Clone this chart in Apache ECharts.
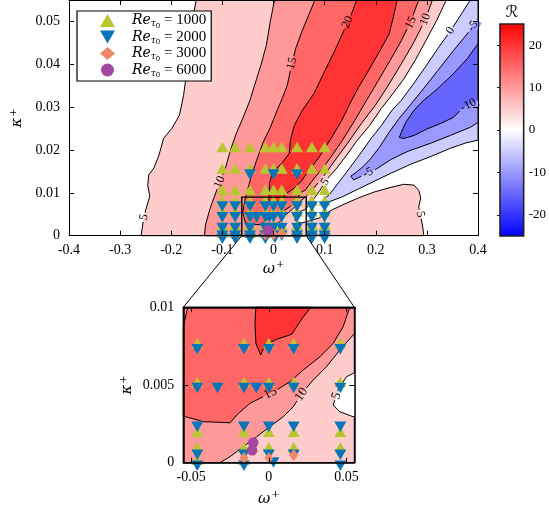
<!DOCTYPE html>
<html>
<head>
<meta charset="utf-8">
<title>Amplification map</title>
<script src="https://cdn.jsdelivr.net/npm/echarts@6.0.0/dist/echarts.min.js"></script>
<style>
html, body { margin: 0; padding: 0; background: #fff; }
#chart { width: 549px; height: 510px; }
</style>
</head>
<body>
<div id="chart"></div>
<script>
const SERIF = '"Liberation Serif", "DejaVu Serif", serif';
const MATH = '"DejaVu Serif", "Liberation Serif", serif';

// ---------- axes ----------
const omegaRangeMain = [-0.4, 0.4];
const kappaRangeMain = [0, 0.055];
const omegaRangeInset = [-0.055, 0.055];
const kappaRangeInset = [0, 0.01];
const omegaTicksMain = [-0.4, -0.3, -0.2, -0.1, 0, 0.1, 0.2, 0.3, 0.4];
const kappaTicksMain = [0, 0.01, 0.02, 0.03, 0.04, 0.05];
const omegaTicksInset = [-0.05, 0, 0.05];
const kappaTicksInset = [0, 0.005, 0.01];
const colorbarRange = [-25, 25];
const colorbarTicks = [-20, -10, 0, 10, 20];
const zoomBox = [-0.062, 0, 0.064, 0.009]; // [ω0, κ0, ω1, κ1]

// ---------- contour regions of R, vertices [ω+, κ+] ----------
// R >= 5
const regionGE5 = [
  [-0.151,0.055],[-0.159,0.0502],[-0.166,0.0432],[-0.172,0.0362],[-0.176,0.0327],[-0.184,0.0281],
  [-0.199,0.0250],[-0.215,0.0227],[-0.224,0.0188],[-0.234,0.0158],[-0.244,0.0142],[-0.246,0.0118],
  [-0.242,0.0092],[-0.250,0.0060],[-0.255,0.0032],[-0.259,0],
  [0.294,0],[0.292,0.0020],[0.288,0.0044],[0.284,0.0067],[0.288,0.0088],[0.284,0.0106],[0.275,0.0118],
  [0.255,0.0120],[0.230,0.0113],[0.197,0.0102],[0.166,0.0088],[0.139,0.0074],[0.114,0.0060],[0.089,0.0041],
  [0.062,0.0032],[0.0543,0.00296],[0.0457,0.00328],[0.0414,0.00371],[0.0446,0.00468],[0.0500,0.00553],
  [0.0543,0.00575],[0.062,0.0061],[0.075,0.0080],[0.091,0.0106],[0.106,0.0134],[0.124,0.0158],
  [0.143,0.0188],[0.164,0.0223],[0.188,0.0257],[0.211,0.0297],[0.234,0.0332],[0.255,0.0366],
  [0.277,0.0409],[0.298,0.0455],[0.319,0.0502],[0.338,0.055]
];
// R >= 10
const regionGE10 = [
  [0.002,0.055],[-0.006,0.0502],[-0.014,0.0444],[-0.025,0.0397],[-0.037,0.0351],[-0.046,0.0316],
  [-0.060,0.0274],[-0.072,0.0241],[-0.083,0.0204],[-0.093,0.0162],[-0.108,0.0116],[-0.124,0.0064],
  [-0.133,0.0025],[-0.135,0],
  [-0.0314,0],[-0.0249,0.00039],[-0.0164,0.00103],[-0.0078,0.00167],[0.0007,0.00232],[0.0093,0.00296],
  [0.0157,0.0036],[0.0221,0.00457],[0.0286,0.00532],[0.0371,0.00618],[0.0457,0.00725],[0.0543,0.00822],
  [0.064,0.0092],[0.075,0.0106],[0.095,0.0134],[0.118,0.0172],[0.145,0.0216],[0.172,0.0262],
  [0.199,0.0304],[0.222,0.0346],[0.248,0.0397],[0.273,0.0448],[0.296,0.0502],[0.311,0.055]
];
// R >= 15
const regionGE15 = [
  [0.081,0.055],[0.070,0.0518],[0.056,0.0478],[0.044,0.0439],[0.035,0.0397],[0.027,0.0351],
  [0.017,0.0320],[0.008,0.0295],[-0.006,0.0253],[-0.021,0.0216],[-0.033,0.0176],[-0.043,0.0141],
  [-0.050,0.0110],[-0.056,0.0083],[-0.060,0.0055],
  [-0.0549,0.0030],[-0.0421,0.00264],[-0.0249,0.00257],[-0.0196,0.00317],[-0.0121,0.00382],
  [-0.0035,0.00425],[0.0050,0.00468],[0.0136,0.00521],[0.0221,0.00596],[0.0329,0.00682],
  [0.0414,0.00768],[0.0478,0.00875],[0.0521,0.0100],
  [0.062,0.0106],[0.075,0.0127],[0.093,0.0153],[0.112,0.0183],[0.135,0.0223],[0.159,0.0269],
  [0.182,0.0316],[0.205,0.0362],[0.228,0.0409],[0.250,0.0455],[0.269,0.0502],[0.284,0.055]
];
// R >= 20
const regionGE20 = [
  [0.1625,0.055],[0.1528,0.0518],[0.1373,0.0478],[0.1199,0.0432],[0.1006,0.0385],[0.0793,0.0332],
  [0.0561,0.0292],[0.0406,0.0257],[0.0329,0.0222],[0.0309,0.0192],[0.0174,0.0171],[-0.0019,0.0148],
  [-0.0077,0.0123],
  [-0.0083,0.0100],[-0.0089,0.00897],[-0.0083,0.00768],[-0.0052,0.00693],[-0.0025,0.00757],
  [0.0050,0.00794],[0.0147,0.00826],[0.0211,0.00923],[0.0269,0.0100],
  [0.0406,0.0111],[0.0561,0.0130],[0.0696,0.0153],[0.0890,0.0183],[0.1141,0.0230],[0.1335,0.0269],
  [0.1528,0.0316],[0.1663,0.0346],[0.1857,0.0385],[0.2050,0.0425],[0.2263,0.0471],[0.2360,0.0518],
  [0.2418,0.055]
];
// R <= 0
const regionLE0 = [
  [0.385,0.055],[0.368,0.0518],[0.346,0.0478],[0.321,0.0436],[0.296,0.0392],[0.273,0.0353],
  [0.250,0.0316],[0.232,0.0293],[0.211,0.0257],[0.191,0.0227],[0.172,0.0195],[0.149,0.0158],
  [0.128,0.0125],[0.110,0.0097],[0.095,0.0081],
  [0.106,0.0078],[0.133,0.0090],[0.166,0.0109],[0.197,0.0127],[0.230,0.0146],[0.269,0.0167],
  [0.308,0.0185],[0.346,0.0204],[0.375,0.0216],[0.4,0.0223],[0.4,0.055]
];
// R <= -5
const regionLEm5 = [
  [0.400,0.0506],[0.379,0.0471],[0.352,0.0432],[0.321,0.0385],[0.294,0.0344],[0.269,0.0307],
  [0.246,0.0274],[0.226,0.0241],[0.207,0.0206],[0.191,0.0181],[0.176,0.0162],[0.162,0.0148],
  [0.151,0.0139],
  [0.157,0.0130],[0.172,0.0139],[0.203,0.0157],[0.230,0.0178],[0.263,0.0197],[0.308,0.0216],
  [0.346,0.0234],[0.385,0.0253],[0.400,0.0264]
];
// R <= -10
const regionLEm10 = [
  [0.400,0.0448],[0.379,0.0413],[0.352,0.0378],[0.321,0.0343],[0.294,0.0316],[0.275,0.0293],
  [0.259,0.0265],[0.250,0.0241],[0.246,0.0229],
  [0.255,0.0227],[0.275,0.0234],[0.302,0.0250],[0.327,0.0262],[0.352,0.0276],[0.371,0.0299],
  [0.391,0.0311],[0.400,0.0316]
];

// contour labels: text, position on the line, region whose edge it sits on
const labelsMain = [
  { t: '5',   at: [-0.253, 0.0043], r: 'ge5' },
  { t: '10',  at: [-0.105, 0.0125], r: 'ge10' },
  { t: '15',  at: [0.036, 0.0402],  r: 'ge15' },
  { t: '20',  at: [0.145, 0.0498],  r: 'ge20' },
  { t: '15',  at: [0.269, 0.0497],  r: 'ge15' },
  { t: '10',  at: [0.297, 0.0505],  r: 'ge10' },
  { t: '0',   at: [0.346, 0.0478],  r: 'le0' },
  { t: '-5',  at: [0.390, 0.0489],  r: 'lem5' },
  { t: '-10', at: [0.381, 0.0305],  r: 'lem10' },
  { t: '-5',  at: [0.185, 0.0147],  r: 'lem5' },
  { t: '5',   at: [0.101, 0.0125],  r: 'ge5' },
  { t: '5',   at: [0.287, 0.0050],  r: 'ge5' }
];
const labelsInset = [
  { t: '15', at: [0.001, 0.00448], r: 'ge15' },
  { t: '10', at: [0.021, 0.0044],  r: 'ge10' },
  { t: '5',  at: [0.0435, 0.0043], r: 'ge5' }
];

// ---------- simulation points (ω+, κ+) ----------
const omegaGrid = [-0.1, -0.075, -0.046, -0.016, 0, 0.016, 0.046, 0.075, 0.1];
const re1000Rows = [
  [0.02, omegaGrid], [0.015, omegaGrid], [0.01, omegaGrid], [0.0075, omegaGrid],
  [0.005, omegaGrid], [0.0018, omegaGrid], [0.0008, omegaGrid], [0, [-0.1, -0.075, -0.046, -0.016]]
];
const re2000Rows = [
  [0.015, [-0.046, 0, 0.046]], [0.0075, omegaGrid],
  [0.005, [-0.1, -0.075, -0.046, -0.033, -0.016, -0.008, 0, 0.016, 0.046, 0.075, 0.1]],
  [0.0025, omegaGrid], [0.0007, omegaGrid],
  [0, [-0.1, -0.075, -0.046, -0.016, 0.046, 0.075, 0.1]], [0.0002, [0.003]]
];
const re3000Points = [[-0.016, 0.0003], [0, 0.0003], [0.016, 0.0005]];
const re6000Points = [[-0.0100, 0.0013], [-0.0107, 0.0008]];

// ---------- helpers ----------
function cmap(v) {
  const t = Math.max(-1, Math.min(1, v / 25));
  let r, g, b;
  if (t >= 0) { r = 255; g = b = Math.round(255 * (1 - t)); }
  else { b = 255; r = g = Math.round(255 * (1 + t)); }
  return 'rgb(' + r + ',' + g + ',' + b + ')';
}
function rowsToPoints(rows) {
  const out = [];
  rows.forEach(function (row) { row[1].forEach(function (w) { out.push([w, row[0]]); }); });
  return out;
}
function clipPoly(pts, x0, y0, x1, y1) {
  const edges = [
    [p => p[0] >= x0, (a, b) => { const t = (x0 - a[0]) / (b[0] - a[0]); return [x0, a[1] + t * (b[1] - a[1])]; }],
    [p => p[0] <= x1, (a, b) => { const t = (x1 - a[0]) / (b[0] - a[0]); return [x1, a[1] + t * (b[1] - a[1])]; }],
    [p => p[1] >= y0, (a, b) => { const t = (y0 - a[1]) / (b[1] - a[1]); return [a[0] + t * (b[0] - a[0]), y0]; }],
    [p => p[1] <= y1, (a, b) => { const t = (y1 - a[1]) / (b[1] - a[1]); return [a[0] + t * (b[0] - a[0]), y1]; }]
  ];
  let out = pts;
  for (const [inside, cross] of edges) {
    const inp = out; out = [];
    if (!inp.length) break;
    for (let i = 0; i < inp.length; i++) {
      const cur = inp[i], prev = inp[(i + inp.length - 1) % inp.length];
      const ci = inside(cur), pi = inside(prev);
      if (ci) { if (!pi) out.push(cross(prev, cur)); out.push(cur); }
      else if (pi) out.push(cross(prev, cur));
    }
  }
  return out;
}
function segDist(p, a, b) {
  const dx = b[0] - a[0], dy = b[1] - a[1];
  const L = dx * dx + dy * dy;
  let t = L ? ((p[0] - a[0]) * dx + (p[1] - a[1]) * dy) / L : 0;
  t = Math.max(0, Math.min(1, t));
  const qx = a[0] + t * dx - p[0], qy = a[1] + t * dy - p[1];
  return Math.sqrt(qx * qx + qy * qy);
}
function pointInPoly(p, poly) {
  let inside = false;
  for (let i = 0, j = poly.length - 1; i < poly.length; j = i++) {
    const xi = poly[i][0], yi = poly[i][1], xj = poly[j][0], yj = poly[j][1];
    if (((yi > p[1]) !== (yj > p[1])) && (p[0] < (xj - xi) * (p[1] - yi) / (yj - yi) + xi)) inside = !inside;
  }
  return inside;
}
const fmt = v => String(+(+v).toFixed(4));

// region table: fill inside, colour of the neighbouring band outside
const regions = {
  ge5:   { pts: regionGE5,   fill: cmap(5),   outside: cmap(0) },
  ge10:  { pts: regionGE10,  fill: cmap(10),  outside: cmap(5) },
  ge15:  { pts: regionGE15,  fill: cmap(15),  outside: cmap(10) },
  ge20:  { pts: regionGE20,  fill: cmap(20),  outside: cmap(15) },
  le0:   { pts: regionLE0,   fill: cmap(-5),  outside: cmap(0) },
  lem5:  { pts: regionLEm5,  fill: cmap(-10), outside: cmap(-5) },
  lem10: { pts: regionLEm10, fill: cmap(-15), outside: cmap(-10) }
};
const regionOrder = ['ge5', 'ge10', 'ge15', 'ge20', 'le0', 'lem5', 'lem10'];

function regionSeries(key, axisIdx, lw) {
  const reg = regions[key];
  return {
    type: 'custom', xAxisIndex: axisIdx, yAxisIndex: axisIdx, silent: true, z: 1,
    data: [[0, 0]],
    renderItem: function (params, api) {
      const cs = params.coordSys;
      const px = reg.pts.map(p => api.coord(p));
      const clipped = clipPoly(px, cs.x, cs.y, cs.x + cs.width, cs.y + cs.height);
      if (clipped.length < 3) return { type: 'group', children: [] };
      return { type: 'polygon', shape: { points: clipped },
        style: { fill: reg.fill, stroke: '#000', lineWidth: lw } };
    }
  };
}

function labelSeries(labels, axisIdx, fontSize) {
  return {
    type: 'custom', xAxisIndex: axisIdx, yAxisIndex: axisIdx, silent: true, z: 3,
    data: labels.map((l, i) => [l.at[0], l.at[1], i]),
    renderItem: function (params, api) {
      const lab = labels[params.dataIndex];
      const reg = regions[lab.r];
      const c = api.coord(lab.at);
      const px = reg.pts.map(p => api.coord(p));
      let best = Infinity, ang = 0;
      for (let i = 0; i < px.length; i++) {
        const a = px[i], b = px[(i + 1) % px.length];
        const d = segDist(c, a, b);
        if (d < best) { best = d; ang = Math.atan2(-(b[1] - a[1]), b[0] - a[0]); }
      }
      if (ang > Math.PI / 2) ang -= Math.PI;
      if (ang < -Math.PI / 2) ang += Math.PI;
      const up = [c[0] - 3 * Math.sin(ang), c[1] - 3 * Math.cos(ang)];
      const upIn = pointInPoly(up, px);
      const topC = upIn ? reg.fill : reg.outside;
      const botC = upIn ? reg.outside : reg.fill;
      const w = lab.t.length * fontSize * 0.5 + 3, h = fontSize * 0.95;
      return {
        type: 'group', x: c[0], y: c[1], rotation: ang,
        children: [
          { type: 'rect', shape: { x: -w / 2, y: -h / 2, width: w, height: h / 2 + 0.5 }, style: { fill: topC } },
          { type: 'rect', shape: { x: -w / 2, y: 0, width: w, height: h / 2 }, style: { fill: botC } },
          { type: 'text', style: { text: lab.t, x: 0, y: 0, align: 'center', verticalAlign: 'middle',
            textAlign: 'center', textVerticalAlign: 'middle',
            font: fontSize + 'px ' + SERIF, fill: '#000' } }
        ]
      };
    }
  };
}

const markerDefs = [
  { name: 'Re1000', pts: rowsToPoints(re1000Rows), symbol: 'triangle', size: [12, 10.5], offset: [0, -3], color: '#b9c62f' },
  { name: 'Re2000', pts: rowsToPoints(re2000Rows), symbol: 'path://M0,0L2,0L1,1.732Z', size: [12, 10.5], offset: [0, 3], color: '#0a74b8' },
  { name: 'Re3000', pts: re3000Points, symbol: 'diamond', size: [9, 12], offset: [0, 0], color: '#ef8767' },
  { name: 'Re6000', pts: re6000Points, symbol: 'circle', size: 10.5, offset: [0, 0], color: '#a4479e' }
];
function markerSeries(def, axisIdx, filter) {
  return {
    type: 'scatter', name: def.name, xAxisIndex: axisIdx, yAxisIndex: axisIdx,
    data: filter ? def.pts.filter(filter) : def.pts,
    symbol: def.symbol, symbolSize: def.size, symbolOffset: def.offset,
    itemStyle: { color: def.color, opacity: 1 }, clip: false, silent: true, z: 5
  };
}
const insetFilter = p => p[0] >= -0.056 && p[0] <= 0.056 && p[1] >= -0.0001 && p[1] < 0.0095;

function boxSeries() {
  return {
    type: 'custom', xAxisIndex: 0, yAxisIndex: 0, silent: true, z: 7,
    data: [zoomBox],
    renderItem: function (params, api) {
      const a = api.coord([zoomBox[0], zoomBox[3]]);
      const b = api.coord([zoomBox[2], zoomBox[1]]);
      return { type: 'rect', shape: { x: a[0], y: a[1], width: b[0] - a[0], height: b[1] - a[1] },
        style: { fill: 'none', stroke: '#000', lineWidth: 1.4 } };
    }
  };
}
function colorbarSeries() {
  return {
    type: 'custom', xAxisIndex: 4, yAxisIndex: 4, silent: true, z: 2,
    data: [[0.5, 0]],
    renderItem: function (params, api) {
      const cs = params.coordSys;
      const top = api.coord([0, colorbarRange[1]]);
      const bot = api.coord([0, colorbarRange[0]]);
      const stops = [];
      for (let v = colorbarRange[1]; v >= colorbarRange[0]; v -= 5) {
        stops.push({ offset: (colorbarRange[1] - v) / (colorbarRange[1] - colorbarRange[0]), color: cmap(v) });
      }
      return { type: 'rect', shape: { x: cs.x, y: top[1], width: cs.width, height: bot[1] - top[1] },
        style: { fill: new echarts.graphic.LinearGradient(0, 0, 0, 1, stops), stroke: '#222', lineWidth: 1.6 } };
    }
  };
}

// ---------- axes ----------
const tickStyle = { show: true, inside: true, length: 5, lineStyle: { color: '#000', width: 1 } };
const labelStyle = { color: '#000', fontFamily: SERIF, fontSize: 14, formatter: fmt };
const nameRich = {
  a: { fontFamily: MATH, fontStyle: 'italic', fontSize: 15, color: '#000' },
  b: { fontFamily: MATH, fontSize: 10, color: '#000', padding: [0, 0, 8, 1] }
};
function xAx(grid, range, ticks, pos, showLabel, lw, extra) {
  return Object.assign({
    type: 'value', gridIndex: grid, min: range[0], max: range[1], position: pos, z: 10,
    splitLine: { show: false },
    axisLine: { show: true, onZero: false, lineStyle: { color: '#000', width: lw } },
    axisTick: Object.assign({}, tickStyle, { customValues: ticks }),
    axisLabel: Object.assign({}, labelStyle, { show: showLabel, margin: 8, customValues: ticks })
  }, extra || {});
}
function yAx(grid, range, ticks, pos, showLabel, lw, extra) {
  return Object.assign({
    type: 'value', gridIndex: grid, min: range[0], max: range[1], position: pos, z: 10,
    splitLine: { show: false },
    axisLine: { show: true, onZero: false, lineStyle: { color: '#000', width: lw } },
    axisTick: Object.assign({}, tickStyle, { customValues: ticks }),
    axisLabel: Object.assign({}, labelStyle, { show: showLabel, margin: 9, customValues: ticks })
  }, extra || {});
}

const xAxes = [
  xAx(0, omegaRangeMain, omegaTicksMain, 'bottom', true, 1,
    { name: '{a|ω}{b|+}', nameLocation: 'middle', nameGap: 24, nameTextStyle: { rich: nameRich } }),
  xAx(0, omegaRangeMain, omegaTicksMain, 'top', false, 1),
  xAx(1, omegaRangeInset, omegaTicksInset, 'bottom', true, 1.5,
    { name: '{a|ω}{b|+}', nameLocation: 'middle', nameGap: 27, nameTextStyle: { rich: nameRich } }),
  xAx(1, omegaRangeInset, omegaTicksInset, 'top', false, 1.5),
  { type: 'value', gridIndex: 2, min: 0, max: 1, show: false }
];
const yAxes = [
  yAx(0, kappaRangeMain, kappaTicksMain, 'left', true, 1,
    { name: '{a|κ}{b|+}', nameLocation: 'middle', nameGap: 43, nameTextStyle: { rich: nameRich } }),
  yAx(0, kappaRangeMain, kappaTicksMain, 'right', false, 1),
  yAx(1, kappaRangeInset, kappaTicksInset, 'left', true, 1.5,
    { name: '{a|κ}{b|+}', nameLocation: 'middle', nameGap: 47, nameTextStyle: { rich: nameRich } }),
  yAx(1, kappaRangeInset, kappaTicksInset, 'right', false, 1.5),
  {
    type: 'value', gridIndex: 2, min: colorbarRange[0], max: colorbarRange[1], position: 'right', z: 10,
    splitLine: { show: false },
    axisLine: { show: false },
    axisTick: { show: true, inside: true, length: 3, customValues: colorbarTicks, lineStyle: { color: '#222', width: 1 } },
    axisLabel: { color: '#000', fontFamily: SERIF, fontSize: 13, margin: 5, customValues: colorbarTicks, formatter: fmt }
  }
];

const series = [];
regionOrder.forEach(k => series.push(regionSeries(k, 0, 1)));
series.push(labelSeries(labelsMain, 0, 12));
markerDefs.forEach(d => series.push(markerSeries(d, 0)));
series.push(boxSeries());
regionOrder.forEach(k => series.push(regionSeries(k, 2, 1)));
series.push(labelSeries(labelsInset, 2, 13));
markerDefs.forEach(d => series.push(markerSeries(d, 2, insetFilter)));
series.push(colorbarSeries());

const legendRich = {
  g: { width: 12 },
  r: { fontFamily: MATH, fontStyle: 'italic', fontSize: 14, color: '#000', lineHeight: 17 },
  s: { fontFamily: MATH, fontStyle: 'italic', fontSize: 9, color: '#000', padding: [7, 0, 0, 0] },
  z: { fontFamily: MATH, fontSize: 7, color: '#000', padding: [11, 0, 0, 0] },
  t: { fontFamily: SERIF, fontSize: 15, color: '#000', lineHeight: 17 }
};

const chart = echarts.init(document.getElementById('chart'), null, { renderer: 'canvas' });
chart.setOption({
  animation: false,
  backgroundColor: '#fff',
  grid: [
    { left: 64.5, top: 0, width: 413.5, height: 235.7 },
    { left: 183.3, top: 307.3, width: 171, height: 155.4 },
    { left: 500, top: 24, width: 24.5, height: 212 }
  ],
  xAxis: xAxes,
  yAxis: yAxes,
  legend: {
    left: 77, top: 11, orient: 'vertical', z: 20, selectedMode: false,
    padding: [2, 5, 2, 23], itemGap: 0, itemWidth: 15, itemHeight: 13,
    backgroundColor: '#fff', borderColor: '#000', borderWidth: 1.2, borderRadius: 0,
    data: ['Re1000', 'Re2000', 'Re3000', 'Re6000'],
    formatter: n => '{g|}{r|Re}{s|τ}{z|0}{t| = ' + n.slice(2) + '}',
    textStyle: { rich: legendRich }
  },
  series: series
});

// connector lines from the zoom box to the inset, and the colour-bar title
const bl = chart.convertToPixel({ gridIndex: 0 }, [zoomBox[0], zoomBox[1]]);
const br = chart.convertToPixel({ gridIndex: 0 }, [zoomBox[2], zoomBox[1]]);
const tl = chart.convertToPixel({ gridIndex: 1 }, [omegaRangeInset[0], kappaRangeInset[1]]);
const tr = chart.convertToPixel({ gridIndex: 1 }, [omegaRangeInset[1], kappaRangeInset[1]]);
const cbTop = chart.convertToPixel({ gridIndex: 2 }, [0.5, colorbarRange[1]]);
chart.setOption({
  graphic: [
    { type: 'line', z: 30, shape: { x1: bl[0], y1: bl[1], x2: tl[0], y2: tl[1] }, style: { stroke: '#000', lineWidth: 1 } },
    { type: 'line', z: 30, shape: { x1: br[0], y1: br[1], x2: tr[0], y2: tr[1] }, style: { stroke: '#000', lineWidth: 1 } },
    { type: 'text', z: 30, x: cbTop[0], y: cbTop[1] - 3,
      style: { text: 'ℛ', align: 'center', verticalAlign: 'bottom', textAlign: 'center', textVerticalAlign: 'bottom',
        font: '16px "DejaVu Serif", "DejaVu Sans", serif', fill: '#000' } }
  ]
});
</script>
</body>
</html>
